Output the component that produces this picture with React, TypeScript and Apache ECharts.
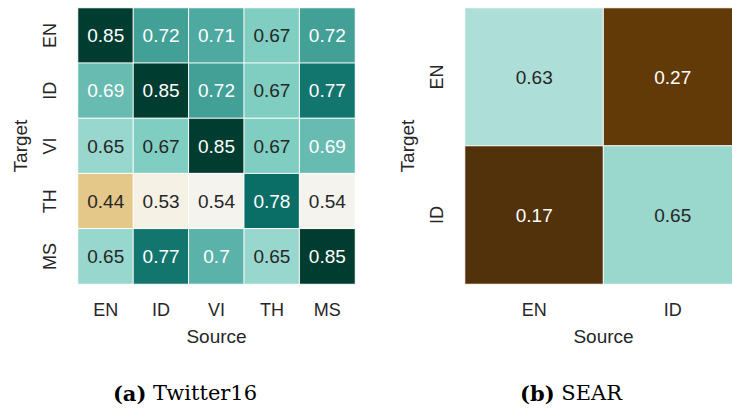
import React, { useEffect, useRef } from "react";
import * as echarts from "echarts";

const langsA = ["EN", "ID", "VI", "TH", "MS"];
const valuesA = [
  [0.85, 0.72, 0.71, 0.67, 0.72],
  [0.69, 0.85, 0.72, 0.67, 0.77],
  [0.65, 0.67, 0.85, 0.67, 0.69],
  [0.44, 0.53, 0.54, 0.78, 0.54],
  [0.65, 0.77, 0.7, 0.65, 0.85],
];
const langsB = ["EN", "ID"];
const valuesB = [
  [0.63, 0.27],
  [0.17, 0.65],
];
const captionA = "Twitter16";
const captionB = "SEAR";

const BrBG = ["#543005", "#8c510a", "#bf812d", "#dfc27d", "#f6e8c3", "#f5f5f5", "#c7eae5", "#80cdc1", "#35978f", "#01665e", "#003c30"];
const DARK = "#262626";
const FONT = "'Liberation Sans', Arial, sans-serif";
const SERIF = "'DejaVu Serif', 'Liberation Serif', serif";

function toData(values: number[][], whiteTest: (v: number) => boolean) {
  const out: any[] = [];
  values.forEach((row, r) =>
    row.forEach((v, c) => {
      out.push({ value: [c, r, v], label: { color: whiteTest(v) ? "#ffffff" : DARK } });
    })
  );
  return out;
}

export default function App() {
  const ref = useRef<HTMLDivElement>(null);
  useEffect(() => {
    document.body.style.margin = "0";
    const chart = echarts.init(ref.current!, null, { renderer: "svg" });
    const axisCommon = {
      axisLine: { show: false },
      axisTick: { show: false },
      splitLine: { show: false },
      splitArea: { show: false },
      nameTextStyle: { fontSize: 19, color: DARK, fontFamily: FONT },
    };
    const xLabel = { fontSize: 18, color: DARK, fontFamily: FONT, margin: 17 };
    const yLabel = { fontSize: 18, color: DARK, fontFamily: FONT, margin: 19, rotate: 90 };
    const cellLabel = { show: true, fontSize: 19, fontFamily: FONT, formatter: (p: any) => String(p.value[2]) };
    const option: any = {
      animation: false,
      backgroundColor: "#ffffff",
      grid: [
        { left: 78, top: 8, width: 277, height: 276 },
        { left: 465, top: 8, width: 277, height: 276 },
      ],
      xAxis: [
        { ...axisCommon, type: "category", gridIndex: 0, data: langsA, name: "Source", nameLocation: "middle", nameGap: 43, axisLabel: xLabel },
        { ...axisCommon, type: "category", gridIndex: 1, data: langsB, name: "Source", nameLocation: "middle", nameGap: 43, axisLabel: xLabel },
      ],
      yAxis: [
        { ...axisCommon, type: "category", gridIndex: 0, inverse: true, data: langsA, name: "Target", nameLocation: "middle", nameGap: 48, axisLabel: yLabel },
        { ...axisCommon, type: "category", gridIndex: 1, inverse: true, data: langsB, name: "Target", nameLocation: "middle", nameGap: 48, axisLabel: yLabel },
      ],
      visualMap: [
        { type: "continuous", show: false, seriesIndex: 0, dimension: 2, min: 0.25, max: 0.85, inRange: { color: BrBG } },
        {
          type: "piecewise",
          show: false,
          seriesIndex: 1,
          dimension: 2,
          pieces: [
            { lt: 0.2, color: "#52320a" },
            { gte: 0.2, lt: 0.5, color: "#623a08" },
            { gte: 0.5, lt: 0.64, color: "#addfd8" },
            { gte: 0.64, color: "#9ad7cd" },
          ],
        },
      ],
      series: [
        {
          type: "heatmap",
          xAxisIndex: 0,
          yAxisIndex: 0,
          data: toData(valuesA, (v) => v >= 0.68),
          itemStyle: { borderColor: "#ffffff", borderWidth: 1 },
          label: cellLabel,
        },
        {
          type: "heatmap",
          xAxisIndex: 1,
          yAxisIndex: 1,
          data: toData(valuesB, (v) => v < 0.5),
          itemStyle: { borderColor: "#ffffff", borderWidth: 1 },
          label: cellLabel,
        },
      ],
      graphic: [
        {
          type: "text",
          x: 185,
          y: 393,
          style: {
            text: "{b|(a)} " + captionA,
            align: "center",
            verticalAlign: "middle",
            fontSize: 21,
            fontFamily: SERIF,
            fill: "#000000",
            rich: { b: { fontWeight: "bold", fontSize: 21, fontFamily: SERIF } },
          },
        },
        {
          type: "text",
          x: 571,
          y: 393,
          style: {
            text: "{b|(b)} " + captionB,
            align: "center",
            verticalAlign: "middle",
            fontSize: 21,
            fontFamily: SERIF,
            fill: "#000000",
            rich: { b: { fontWeight: "bold", fontSize: 21, fontFamily: SERIF } },
          },
        },
      ],
    };
    chart.setOption(option);
    return () => chart.dispose();
  }, []);
  return (
    <div style={{ position: "absolute", left: 0, top: 0, width: 732, height: 411, overflow: "hidden" }}>
      <div ref={ref} style={{ position: "absolute", left: 0, top: 0, width: 750, height: 411 }} />
    </div>
  );
}
